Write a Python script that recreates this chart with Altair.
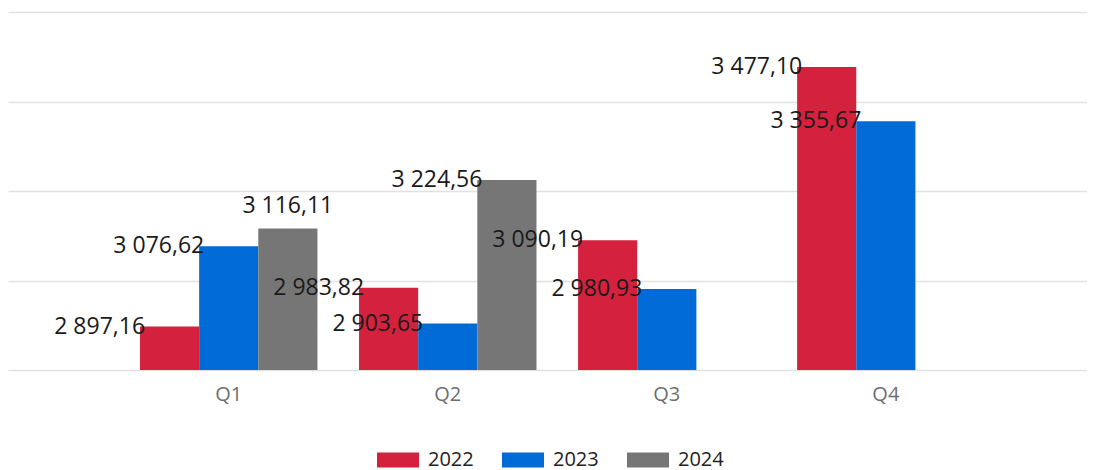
import altair as alt
import pandas as pd

quarters = ["Q1", "Q2", "Q3", "Q4"]
years = ["2022", "2023", "2024"]
values_2022 = [2897.16, 2983.82, 3090.19, 3477.10]
values_2023 = [3076.62, 2903.65, 2980.93, 3355.67]
values_2024 = [3116.11, 3224.56, None, None]
colors = ["#D4213D", "#006AD6", "#767676"]

rows = []
for yr, vals in zip(years, [values_2022, values_2023, values_2024]):
    for q, v in zip(quarters, vals):
        if v is not None:
            rows.append({"quarter": q, "year": yr, "value": v})
df = pd.DataFrame(rows)

FONT = "Open Sans"

x_enc = alt.X("quarter:N", sort=quarters,
              scale=alt.Scale(paddingInner=0.19, paddingOuter=0.558, align=0.54),
              axis=alt.Axis(title=None, labelAngle=0, ticks=False, domain=False,
                            labelPadding=14, labelFontSize=20, labelColor="#6E6E6E",
                            labelFont=FONT, grid=False))
xoff = alt.XOffset("year:N", scale=alt.Scale(domain=years, paddingInner=0, paddingOuter=0))
y_enc = alt.Y("value:Q",
              scale=alt.Scale(domain=[2800, 3600], zero=False, nice=False),
              axis=alt.Axis(title=None, labels=False, ticks=False, domain=False,
                            values=[2800, 3000, 3200, 3400, 3600],
                            grid=True, gridColor="#E1E1E1", gridWidth=1.6))

base = alt.Chart(df).encode(x=x_enc, xOffset=xoff, y=y_enc)

bars = base.mark_bar().encode(
    y2=alt.datum(2800),
    color=alt.Color("year:N", scale=alt.Scale(domain=years, range=colors),
                    legend=alt.Legend(title=None, orient="none", direction="horizontal",
                                      legendX=369, legendY=427,
                                      symbolType="M-1,-0.36H1V0.36H-1Z", symbolSize=1764,
                                      symbolStrokeWidth=0, symbolOpacity=1,
                                      labelFontSize=20, labelFont=FONT, labelColor="#222222",
                                      labelOffset=9, columnPadding=28))
)

label_expr = "replace(replace(format(datum.value, ',.2f'), ',', ' '), '.', ',')"

labels = base.transform_calculate(label=label_expr).transform_filter(
    "!(datum.quarter == 'Q1' && datum.year == '2024')"
).mark_text(align="right", baseline="middle", dx=-24.5, fontSize=23, font=FONT,
            color="#1a1a1a").encode(text="label:N")

labels_top = base.transform_calculate(label=label_expr).transform_filter(
    "datum.quarter == 'Q1' && datum.year == '2024'"
).mark_text(align="center", baseline="middle", dy=-23, fontSize=23, font=FONT,
            color="#1a1a1a").encode(text="label:N")

chart = alt.layer(bars, labels, labels_top).properties(
    width=1079, height=358,
    padding={"left": 0, "right": 0, "top": 4, "bottom": 0}
).configure_view(stroke=None)

chart.save("out.html", embed_options={"renderer": "svg", "actions": False})
